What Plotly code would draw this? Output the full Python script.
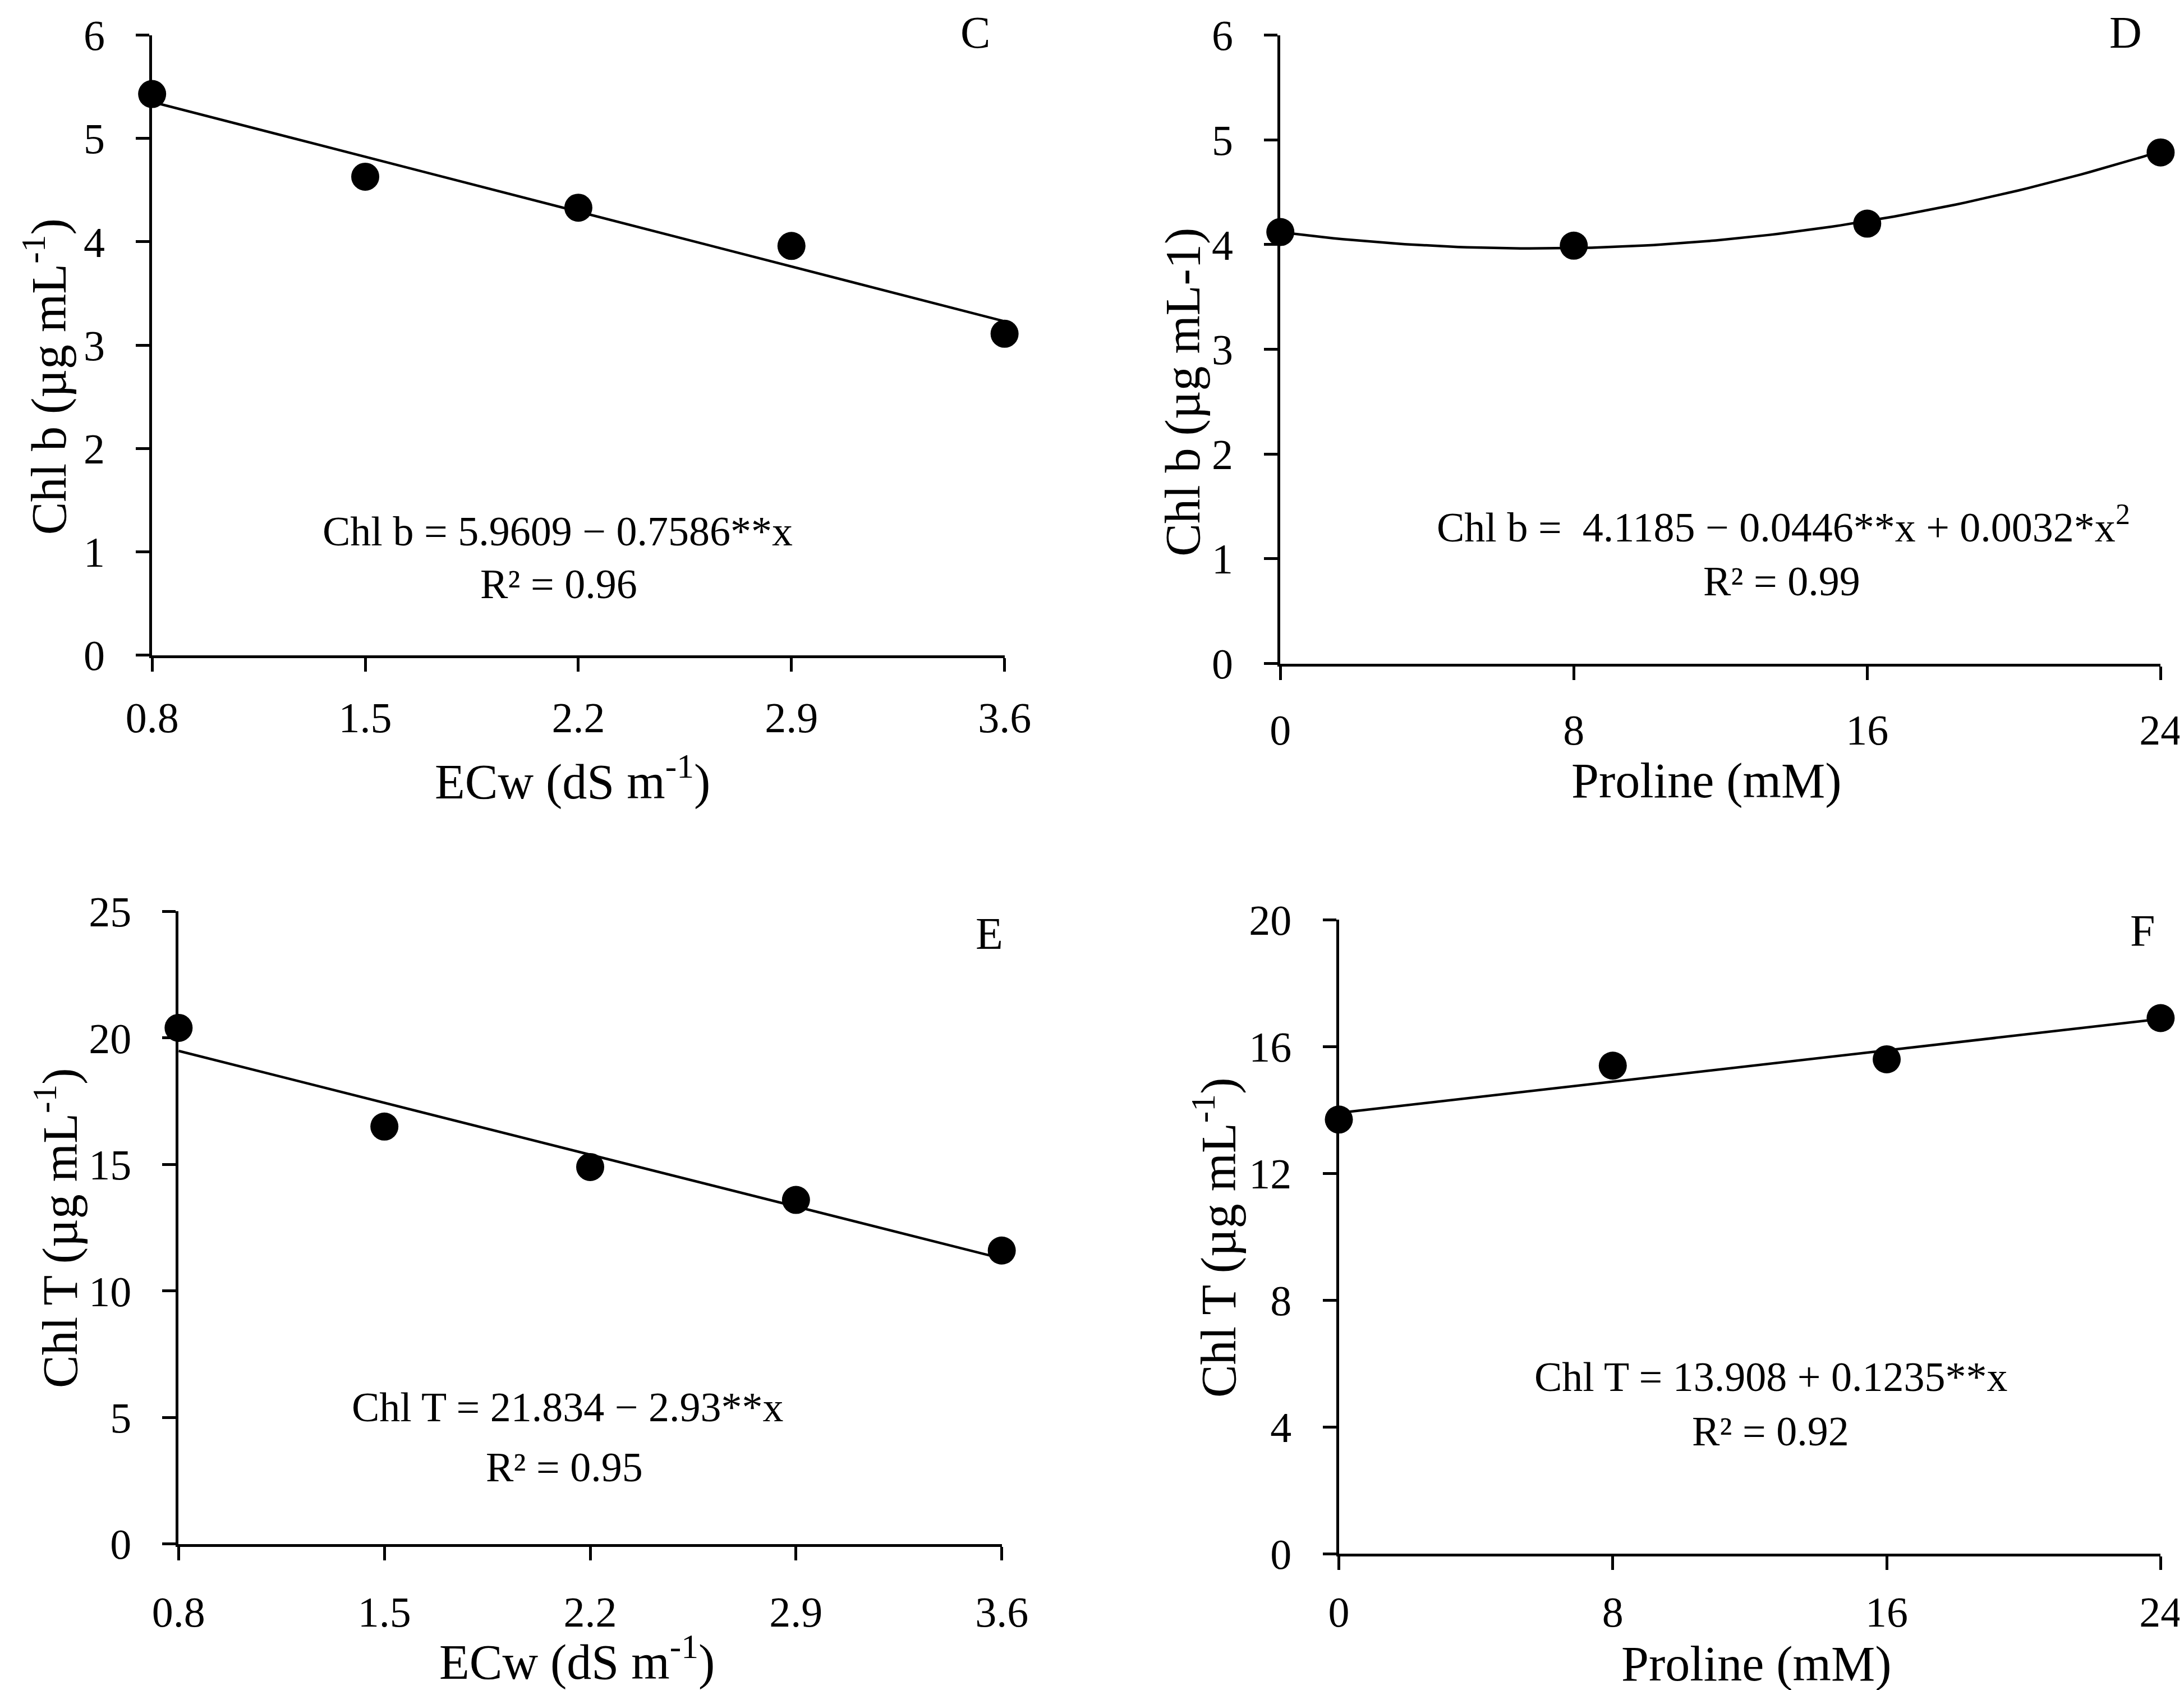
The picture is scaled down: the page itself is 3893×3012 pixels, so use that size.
import numpy as np
import plotly.graph_objects as go

# ---- data ----
ecw = [0.8, 1.5, 2.2, 2.9, 3.6]
proline = [0, 8, 16, 24]

chlb_ecw = [5.43, 4.63, 4.33, 3.96, 3.11]
chlb_pro = [4.12, 3.99, 4.20, 4.88]
chlt_ecw = [20.4, 16.5, 14.9, 13.6, 11.6]
chlt_pro = [13.7, 15.4, 15.6, 16.9]

# regression coefficients printed on each panel (c0, c1, c2)
coef_c = [5.9609, -0.7586, 0.0]
coef_d = [4.1185, -0.0446, 0.0032]
coef_e = [21.834, -2.93, 0.0]
coef_f = [13.908, 0.1235, 0.0]

ecw_ticks = [0.8, 1.5, 2.2, 2.9, 3.6]
pro_ticks = [0, 8, 16, 24]

W, H = 3893, 3012
REF_W, REF_H = 1568, 1213
FONT = "Liberation Serif"


def px(x):
    return x / REF_W


def py(y):
    return 1 - y / REF_H


fig = go.Figure()

panels = [
    dict(xs=ecw, ys=chlb_ecw, coef=coef_c, xr=[0.8, 3.6], yr=[0, 6], xt=ecw_ticks, yd=1,
         dx=[px(106), px(718)], dy=[py(467), py(22)], xstand=17),
    dict(xs=proline, ys=chlb_pro, coef=coef_d, xr=[0, 24], yr=[0, 6], xt=pro_ticks, yd=1,
         dx=[px(916), px(1548)], dy=[py(473), py(22)], xstand=24),
    dict(xs=ecw, ys=chlt_ecw, coef=coef_e, xr=[0.8, 3.6], yr=[0, 25], xt=ecw_ticks, yd=5,
         dx=[px(125), px(716)], dy=[py(1105), py(651)], xstand=27),
    dict(xs=proline, ys=chlt_pro, coef=coef_f, xr=[0, 24], yr=[0, 20], xt=pro_ticks, yd=4,
         dx=[px(958), px(1548)], dy=[py(1112), py(657)], xstand=10),
]

for i, p in enumerate(panels):
    sfx = "" if i == 0 else str(i + 1)
    c0, c1, c2 = p["coef"]
    xf = np.linspace(p["xr"][0], p["xr"][1], 100)
    yf = c0 + c1 * xf + c2 * xf ** 2
    fig.add_trace(go.Scatter(x=xf, y=yf, mode="lines", xaxis="x" + sfx, yaxis="y" + sfx,
                             line=dict(color="black", width=4.5), cliponaxis=False,
                             hoverinfo="skip"))
    fig.add_trace(go.Scatter(x=p["xs"], y=p["ys"], mode="markers", xaxis="x" + sfx,
                             yaxis="y" + sfx, marker=dict(color="black", size=50),
                             cliponaxis=False))

    axis_common = dict(showgrid=False, zeroline=False, showline=True, linecolor="black",
                       linewidth=5, ticks="outside", ticklen=24, tickwidth=5, tickcolor="black",
                       automargin=False,
                       tickfont=dict(family=FONT, size=76, color="black"))
    fig.update_layout(**{
        "xaxis" + sfx: dict(domain=p["dx"], range=p["xr"], tickmode="array", tickvals=p["xt"],
                            ticktext=[f"{t:g}" for t in p["xt"]], anchor="y" + sfx,
                            ticklabelstandoff=p["xstand"], **axis_common),
        "yaxis" + sfx: dict(domain=p["dy"], range=p["yr"], dtick=p["yd"], anchor="x" + sfx,
                            ticklabelstandoff=40, **axis_common),
    })

notes = [
    # y-axis titles
    ("Chl b (µg mL<sup>-1</sup>)", 29.5, 267, 88, -90),
    ("Chl b (µg mL-1)", 846, 278, 88, -90),
    ("Chl T (µg mL<sup>-1</sup>)", 37, 878, 88, -90),
    ("Chl T (µg mL<sup>-1</sup>)", 869, 885, 88, -90),
    # x-axis titles
    ("ECw (dS m<sup>-1</sup>)", 408, 555, 88, 0),
    ("Proline (mM)", 1222, 557, 88, 0),
    ("ECw (dS m<sup>-1</sup>)", 411, 1187, 88, 0),
    ("Proline (mM)", 1258, 1191, 88, 0),
    # equations
    ("Chl b = 5.9609 − 0.7586**x", 397, 378, 74, 0),
    ("R² = 0.96", 398, 416, 74, 0),
    ("Chl b =  4.1185 − 0.0446**x + 0.0032*x<sup>2</sup>", 1277, 373, 74, 0),
    ("R² = 0.99", 1276, 414, 74, 0),
    ("Chl T = 21.834 − 2.93**x", 404, 1007, 74, 0),
    ("R² = 0.95", 402, 1050, 74, 0),
    ("Chl T = 13.908 + 0.1235**x", 1268, 985, 74, 0),
    ("R² = 0.92", 1268, 1024, 74, 0),
    # panel letters
    ("C", 697, 20, 80, 0),
    ("D", 1523, 20, 80, 0),
    ("E", 707, 667, 80, 0),
    ("F", 1535, 665, 80, 0),
]

for text, x, y, size, angle in notes:
    fig.add_annotation(text=text, x=px(x), y=py(y), xref="paper", yref="paper",
                       xanchor="center", yanchor="middle", showarrow=False, textangle=angle,
                       font=dict(family=FONT, size=size, color="black"))

fig.update_layout(width=W, height=H, margin=dict(l=0, r=0, t=0, b=0, pad=0),
                  paper_bgcolor="white", plot_bgcolor="white", showlegend=False)

fig.write_html("out.html")
